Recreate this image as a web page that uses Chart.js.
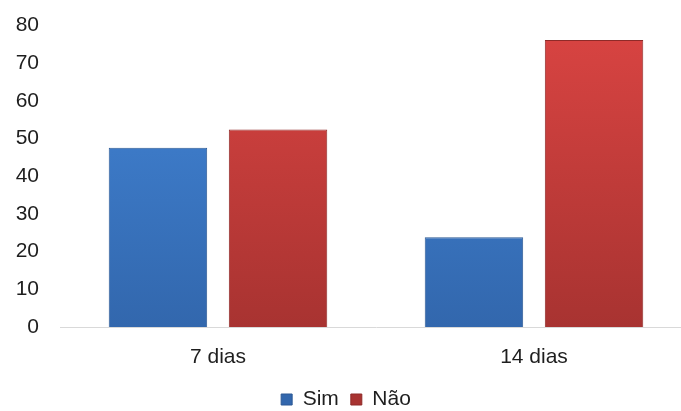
<!DOCTYPE html>
<html>
<head>
<meta charset="utf-8">
<script src="https://cdn.jsdelivr.net/npm/chart.js@4"></script>
<style>
  html, body { margin: 0; padding: 0; background: #fff; overflow: hidden; }
  #wrap { width: 720px; height: 411px; }
</style>
</head>
<body>
<div id="wrap"><canvas id="chart"></canvas></div>
<script>
const categories = ['7 dias', '14 dias'];
const simValues = [47.6, 23.8];
const naoValues = [52.4, 76.2];
const yTicks = [0, 10, 20, 30, 40, 50, 60, 70, 80];

const fontFamily = 'Liberation Sans, Arial, sans-serif';

const vGradient = (ctx, top, bottom) => {
    let area = ctx.chart.chartArea;
    if (!area) return top;
    let g = ctx.chart.ctx.createLinearGradient(0, area.top, 0, area.bottom);
    g.addColorStop(0, top);
    g.addColorStop(1, bottom);
    return g;
}

let config = {
    type: 'bar',
    data: {
        labels: categories,
        datasets: [{
            label: 'Sim',
            data: simValues,
            backgroundColor: ctx => vGradient(ctx, '#4386d8', '#3267ad'),
            borderColor: '#2c5994',
            borderWidth: 1,
            barPercentage: 0.82,
            categoryPercentage: 0.76
        }, {
            label: 'Não',
            data: naoValues,
            backgroundColor: ctx => vGradient(ctx, '#d94442', '#a83331'),
            borderColor: '#8f2a28',
            borderWidth: 1,
            barPercentage: 0.82,
            categoryPercentage: 0.76
        }]
    },
    options: {
        responsive: true,
        maintainAspectRatio: false,
        animation: false,
        layout: { padding: { top: 10, right: 28, left: 0, bottom: -9 } },
        plugins: {
            tooltip: { enabled: false },
            legend: {
                position: 'bottom',
                labels: {
                    boxWidth: 11,
                    boxHeight: 11,
                    padding: 12,
                    color: '#1e1e1e',
                    font: { family: fontFamily, size: 21 }
                }
            }
        },
        scales: {
            x: {
                afterFit: s => { s.height = 50; },
                grid: { display: false },
                border: { color: '#d9d9d9', width: 1 },
                ticks: {
                    color: '#1e1e1e',
                    padding: 10,
                    font: { family: fontFamily, size: 21 }
                }
            },
            y: {
                min: 0,
                max: 80,
                afterBuildTicks: axis => { axis.ticks = yTicks.map(v => ({ value: v })); },
                afterFit: s => { s.width = 60; },
                grid: { display: false },
                border: { display: false },
                ticks: {
                    color: '#1e1e1e',
                    padding: 13,
                    font: { family: fontFamily, size: 21 }
                }
            }
        }
    }
};

new Chart(document.getElementById('chart'), config);
</script>
</body>
</html>
